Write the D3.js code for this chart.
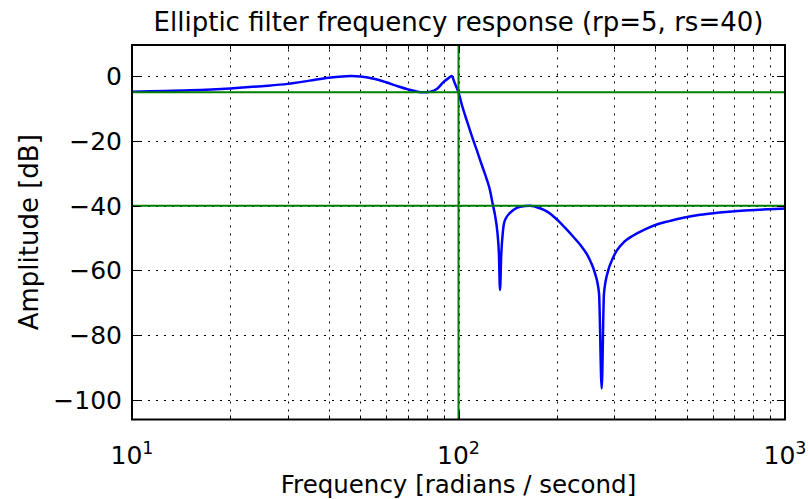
<!DOCTYPE html>
<html>
<head>
<meta charset="utf-8">
<script src="https://cdn.jsdelivr.net/npm/d3@7"></script>
<style>
  body { margin: 0; background: #fff; }
  text { font-family: "DejaVu Sans", sans-serif; fill: #000; }
</style>
</head>
<body>
<svg id="chart" width="808" height="499"></svg>
<script>
// Angular frequency (rad/s) and magnitude response (dB) of the elliptic low-pass filter
const freq = [10, 15, 20, 25, 30, 35, 40, 44, 47, 50,
  55, 60, 65, 70, 74, 78, 82, 86, 90, 93,
  95.3, 97.5, 100, 102.5, 105.9, 109.7, 113.7, 118.0, 122.0, 124.9,
  127.3, 129.4, 131.5, 133.0, 134.0, 135.2, 136.6, 137.8, 140.4, 143.8,
  147.2, 154.3, 165.6, 177.7, 188.0, 199.9, 211.9, 224.7, 235.6, 247.0,
  254.5, 261.9, 269.4, 274.5, 279.0, 287.6, 295.2, 305.2, 321.3, 343.1,
  372.6, 404.6, 444.5, 488.1, 549.1, 617.8, 703.1, 781.3, 887.0, 1000];
const amplitude = [-4.8, -4.4, -3.8, -3.1, -2.4, -1.4, -0.5, -0.1, 0, -0.1,
  -0.8, -1.9, -3.1, -4.1, -4.7, -5.0, -4.8, -3.9, -1.8, -0.7,
  0, -2.3, -5, -9, -13.6, -18.3, -22.8, -27.6, -31.8, -35.3,
  -39.5, -43, -48, -55, -66, -55, -48.6, -45.5, -43.5, -42.2,
  -41.3, -40.3, -40.0, -40.8, -42.0, -44.2, -46.8, -49.6, -52.0, -54.9,
  -57.5, -60.9, -67.1, -96.4, -67.1, -59.9, -56.8, -53.9, -51.2, -49.2,
  -47.3, -45.8, -44.7, -43.7, -42.8, -42.2, -41.7, -41.4, -41.1, -40.9];

const yTickValues = [0, -20, -40, -60, -80, -100];
const xMajorTicks = [10, 100, 1000];
const xMajorExponents = ["1", "2", "3"];
const xMinorTicks = [20, 30, 40, 50, 60, 70, 80, 90, 200, 300, 400, 500, 600, 700, 800, 900];

// Design parameters shown as reference lines
const cutoffFreq = 100;
const passbandRipple = -5;
const stopbandAtten = -40;

const titleText = "Elliptic filter frequency response (rp=5, rs=40)";
const xLabelText = "Frequency [radians / second]";
const yLabelText = "Amplitude [dB]";

const svg = d3.select("#chart");
const L = 132, R = 785, T = 45, B = 419.5;

const x = d3.scaleLog().domain([10, 1000]).range([L, R]);
const y = d3.scaleLinear().domain([-106, 9.6]).range([B, T]);

svg.append("defs").append("clipPath").attr("id", "plotclip")
  .append("rect").attr("x", L).attr("y", T).attr("width", R - L).attr("height", B - T);

// Grid (dotted, both major and minor on x; major on y)
const grid = svg.append("g").attr("stroke", "#000").attr("stroke-width", 1)
  .attr("stroke-dasharray", "2,6").attr("fill", "none");
xMajorTicks.concat(xMinorTicks).forEach(v => {
  grid.append("line").attr("x1", Math.round(x(v)) + 0.5).attr("x2", Math.round(x(v)) + 0.5)
    .attr("y1", B).attr("y2", T);
});
yTickValues.forEach(v => {
  grid.append("line").attr("x1", L).attr("x2", R)
    .attr("y1", Math.round(y(v)) + 0.5).attr("y2", Math.round(y(v)) + 0.5);
});

const plot = svg.append("g").attr("clip-path", "url(#plotclip)");

// Response curve
const line = d3.line()
  .x((d, i) => x(freq[i]))
  .y((d, i) => y(amplitude[i]))
  .curve(d3.curveMonotoneX);
plot.append("path").datum(amplitude)
  .attr("d", line)
  .attr("fill", "none").attr("stroke", "#0000ff").attr("stroke-width", 2.5)
  .attr("stroke-linejoin", "round");

// Reference lines: cutoff, passband ripple, stopband attenuation
const green = "#008000";
plot.append("line").attr("x1", x(cutoffFreq)).attr("x2", x(cutoffFreq))
  .attr("y1", T).attr("y2", B).attr("stroke", green).attr("stroke-width", 2);
[passbandRipple, stopbandAtten].forEach(v => {
  plot.append("line").attr("x1", L).attr("x2", R)
    .attr("y1", y(v)).attr("y2", y(v)).attr("stroke", green).attr("stroke-width", 2);
});

// Inward ticks on all four sides
const ticks = svg.append("g").attr("stroke", "#000").attr("stroke-width", 1);
xMajorTicks.forEach(v => {
  const px = Math.round(x(v)) + 0.5;
  ticks.append("line").attr("x1", px).attr("x2", px).attr("y1", B).attr("y2", B - 8);
  ticks.append("line").attr("x1", px).attr("x2", px).attr("y1", T).attr("y2", T + 8);
});
xMinorTicks.forEach(v => {
  const px = Math.round(x(v)) + 0.5;
  ticks.append("line").attr("x1", px).attr("x2", px).attr("y1", B).attr("y2", B - 4);
  ticks.append("line").attr("x1", px).attr("x2", px).attr("y1", T).attr("y2", T + 4);
});
yTickValues.forEach(v => {
  const py = Math.round(y(v)) + 0.5;
  ticks.append("line").attr("x1", L).attr("x2", L + 8).attr("y1", py).attr("y2", py);
  ticks.append("line").attr("x1", R).attr("x2", R - 8).attr("y1", py).attr("y2", py);
});

// Frame
svg.append("rect").attr("x", L).attr("y", T).attr("width", R - L).attr("height", B - T)
  .attr("fill", "none").attr("stroke", "#000").attr("stroke-width", 2);

// Y tick labels
const fmt = v => (v < 0 ? "\u2212" + Math.abs(v) : String(v));
yTickValues.forEach(v => {
  svg.append("text").attr("x", L - 10).attr("y", y(v)).attr("dy", "0.36em")
    .attr("text-anchor", "end").attr("font-size", 25).text(fmt(v));
});

// X tick labels as powers of ten
xMajorTicks.forEach((v, i) => {
  const t = svg.append("text").attr("x", x(v)).attr("y", 464)
    .attr("text-anchor", "middle").attr("font-size", 25);
  t.append("tspan").text("10");
  t.append("tspan").attr("font-size", 17.5).attr("dy", -10).text(xMajorExponents[i]);
});

// Title and axis labels
svg.append("text").attr("x", (L + R) / 2).attr("y", 31).attr("text-anchor", "middle")
  .attr("font-size", 26).text(titleText);
svg.append("text").attr("x", (L + R) / 2).attr("y", 493).attr("text-anchor", "middle")
  .attr("font-size", 24.5).text(xLabelText);
svg.append("text").attr("transform", `translate(38,${(T + B) / 2}) rotate(-90)`)
  .attr("text-anchor", "middle").attr("font-size", 26).text(yLabelText);
</script>
</body>
</html>
